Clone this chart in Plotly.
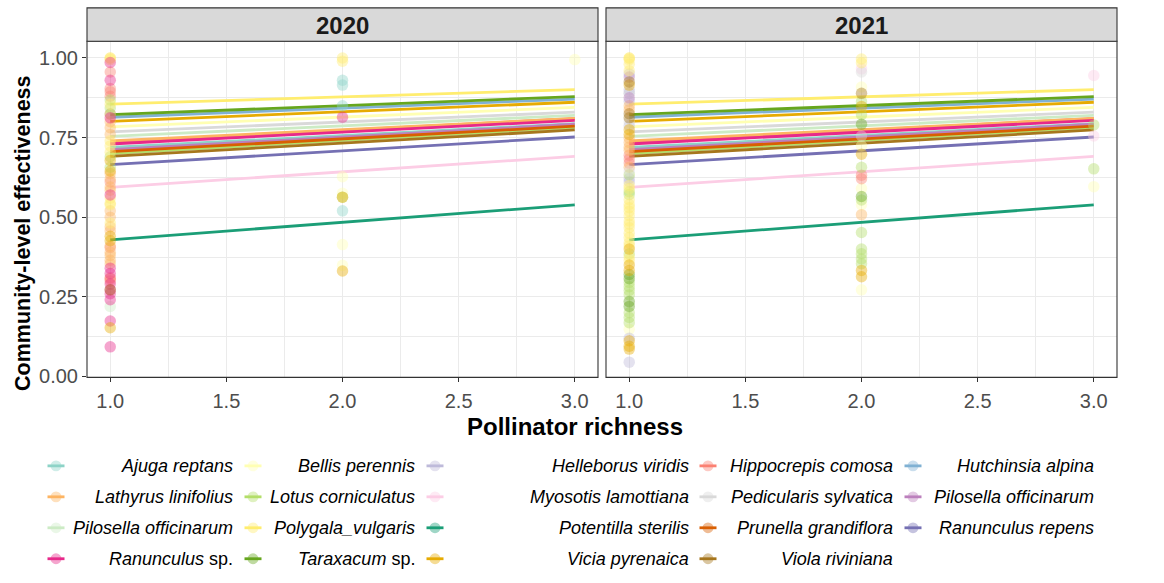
import plotly.graph_objects as go

W, H = 1164, 583

# Species (plant) names in legend order; the second Pilosella entry carries a trailing space
species = [
    "Ajuga reptans", "Bellis perennis", "Helleborus viridis", "Hippocrepis comosa",
    "Hutchinsia alpina", "Lathyrus linifolius", "Lotus corniculatus", "Myosotis lamottiana",
    "Pedicularis sylvatica", "Pilosella officinarum", "Pilosella officinarum ",
    "Polygala_vulgaris", "Potentilla sterilis", "Prunella grandiflora", "Ranunculus repens",
    "Ranunculus sp.", "Taraxacum sp.", "Vicia pyrenaica", "Viola riviniana",
]
legend_labels = [
    "<i>Ajuga reptans</i>", "<i>Bellis perennis</i>", "<i>Helleborus viridis</i>",
    "<i>Hippocrepis comosa</i>", "<i>Hutchinsia alpina</i>", "<i>Lathyrus linifolius</i>",
    "<i>Lotus corniculatus</i>", "<i>Myosotis lamottiana</i>", "<i>Pedicularis sylvatica</i>",
    "<i>Pilosella officinarum</i>", "<i>Pilosella officinarum</i>", "<i>Polygala_vulgaris</i>",
    "<i>Potentilla sterilis</i>", "<i>Prunella grandiflora</i>", "<i>Ranunculus repens</i>",
    "<i>Ranunculus</i> sp.", "<i>Taraxacum</i> sp.", "<i>Vicia pyrenaica</i>",
    "<i>Viola riviniana</i>",
]
colors = [
    "#8DD3C7", "#FFFFB3", "#BEBADA", "#FB8072", "#80B1D3", "#FDB462", "#B3DE69",
    "#FCCDE5", "#D9D9D9", "#BC80BD", "#CCEBC5", "#FFED6F",
    "#1B9E77", "#D95F02", "#7570B3", "#E7298A", "#66A61E", "#E6AB02", "#A6761D",
]

# Fitted community-level effectiveness at richness 1 and 3 for each species
fit_x = [1, 3]
fit_at_1 = [0.719, 0.784, 0.700, 0.735, 0.814, 0.740, 0.700, 0.594, 0.768, 0.712, 0.754,
            0.855, 0.429, 0.706, 0.665, 0.730, 0.822, 0.801, 0.691]
fit_at_3 = [0.794, 0.845, 0.782, 0.810, 0.871, 0.810, 0.782, 0.691, 0.830, 0.792, 0.820,
            0.901, 0.539, 0.786, 0.752, 0.804, 0.879, 0.861, 0.774]

# Observations, 2020: (effectiveness, species) at each pollinator richness
obs_2020_r1 = [
    (1.000, "Polygala_vulgaris"), (1.000, "Polygala_vulgaris"), (0.995, "Polygala_vulgaris"),
    (0.986, "Ranunculus sp."), (0.956, "Hippocrepis comosa"), (0.930, "Ranunculus sp."),
    (0.904, "Hippocrepis comosa"), (0.894, "Hippocrepis comosa"), (0.880, "Hippocrepis comosa"),
    (0.868, "Lotus corniculatus"), (0.855, "Polygala_vulgaris"), (0.843, "Lotus corniculatus"),
    (0.824, "Hippocrepis comosa"), (0.824, "Lotus corniculatus"), (0.812, "Ranunculus sp."),
    (0.800, "Lathyrus linifolius"), (0.781, "Lathyrus linifolius"), (0.760, "Lathyrus linifolius"),
    (0.740, "Polygala_vulgaris"), (0.724, "Polygala_vulgaris"), (0.704, "Polygala_vulgaris"),
    (0.690, "Lotus corniculatus"), (0.678, "Vicia pyrenaica"), (0.657, "Lotus corniculatus"),
    (0.645, "Vicia pyrenaica"), (0.637, "Lathyrus linifolius"), (0.620, "Lathyrus linifolius"),
    (0.611, "Hippocrepis comosa"), (0.595, "Lathyrus linifolius"), (0.585, "Lathyrus linifolius"),
    (0.570, "Ranunculus sp."), (0.560, "Polygala_vulgaris"), (0.544, "Polygala_vulgaris"),
    (0.539, "Polygala_vulgaris"), (0.520, "Lathyrus linifolius"), (0.500, "Lathyrus linifolius"),
    (0.482, "Polygala_vulgaris"), (0.470, "Lathyrus linifolius"), (0.457, "Lathyrus linifolius"),
    (0.440, "Vicia pyrenaica"), (0.426, "Vicia pyrenaica"), (0.410, "Lathyrus linifolius"),
    (0.405, "Hippocrepis comosa"), (0.390, "Lathyrus linifolius"), (0.380, "Lathyrus linifolius"),
    (0.365, "Lathyrus linifolius"), (0.354, "Lathyrus linifolius"), (0.340, "Ranunculus sp."),
    (0.323, "Ranunculus sp."), (0.310, "Hippocrepis comosa"), (0.307, "Hippocrepis comosa"),
    (0.300, "Hippocrepis comosa"), (0.290, "Ranunculus sp."), (0.272, "Viola riviniana"),
    (0.272, "Ranunculus sp."), (0.260, "Ranunculus sp."), (0.241, "Ranunculus sp."),
    (0.220, "Pilosella officinarum "), (0.174, "Ranunculus sp."), (0.153, "Vicia pyrenaica"),
    (0.093, "Ranunculus sp."),
]
obs_2020_r2 = [
    (1.000, "Polygala_vulgaris"), (0.990, "Polygala_vulgaris"), (0.930, "Ajuga reptans"),
    (0.915, "Ajuga reptans"), (0.850, "Ajuga reptans"), (0.814, "Ranunculus sp."),
    (0.627, "Bellis perennis"), (0.575, "Bellis perennis"), (0.563, "Vicia pyrenaica"),
    (0.563, "Lotus corniculatus"), (0.520, "Ajuga reptans"), (0.414, "Bellis perennis"),
    (0.349, "Bellis perennis"), (0.331, "Vicia pyrenaica"),
]
obs_2020_r3 = [(0.995, "Bellis perennis")]

# Observations, 2021
obs_2021_r1 = [
    (1.000, "Polygala_vulgaris"), (1.000, "Polygala_vulgaris"), (0.995, "Polygala_vulgaris"),
    (0.980, "Polygala_vulgaris"), (0.960, "Polygala_vulgaris"), (0.950, "Helleborus viridis"),
    (0.940, "Pilosella officinarum"), (0.925, "Viola riviniana"), (0.915, "Vicia pyrenaica"),
    (0.900, "Helleborus viridis"), (0.889, "Helleborus viridis"), (0.889, "Pedicularis sylvatica"),
    (0.875, "Pilosella officinarum"), (0.864, "Helleborus viridis"), (0.850, "Lathyrus linifolius"),
    (0.837, "Lathyrus linifolius"), (0.825, "Viola riviniana"), (0.812, "Viola riviniana"),
    (0.800, "Pedicularis sylvatica"), (0.787, "Helleborus viridis"), (0.775, "Vicia pyrenaica"),
    (0.760, "Vicia pyrenaica"), (0.748, "Lathyrus linifolius"), (0.735, "Lathyrus linifolius"),
    (0.720, "Lathyrus linifolius"), (0.710, "Lathyrus linifolius"), (0.695, "Hippocrepis comosa"),
    (0.683, "Hippocrepis comosa"), (0.670, "Hippocrepis comosa"), (0.657, "Lathyrus linifolius"),
    (0.645, "Pedicularis sylvatica"), (0.633, "Lotus corniculatus"), (0.622, "Helleborus viridis"),
    (0.611, "Helleborus viridis"), (0.600, "Polygala_vulgaris"), (0.590, "Polygala_vulgaris"),
    (0.580, "Lotus corniculatus"), (0.571, "Lotus corniculatus"), (0.555, "Polygala_vulgaris"),
    (0.540, "Polygala_vulgaris"), (0.530, "Polygala_vulgaris"), (0.519, "Polygala_vulgaris"),
    (0.505, "Polygala_vulgaris"), (0.488, "Polygala_vulgaris"), (0.478, "Polygala_vulgaris"),
    (0.467, "Polygala_vulgaris"), (0.450, "Polygala_vulgaris"), (0.436, "Polygala_vulgaris"),
    (0.420, "Polygala_vulgaris"), (0.410, "Polygala_vulgaris"), (0.400, "Vicia pyrenaica"),
    (0.385, "Lotus corniculatus"), (0.375, "Polygala_vulgaris"), (0.364, "Polygala_vulgaris"),
    (0.350, "Vicia pyrenaica"), (0.333, "Vicia pyrenaica"), (0.320, "Taraxacum sp."),
    (0.307, "Taraxacum sp."), (0.295, "Lotus corniculatus"), (0.282, "Lotus corniculatus"),
    (0.270, "Lotus corniculatus"), (0.256, "Lotus corniculatus"), (0.235, "Taraxacum sp."),
    (0.220, "Taraxacum sp."), (0.200, "Lotus corniculatus"), (0.185, "Lotus corniculatus"),
    (0.169, "Lotus corniculatus"), (0.148, "Bellis perennis"), (0.120, "Helleborus viridis"),
    (0.112, "Vicia pyrenaica"), (0.095, "Vicia pyrenaica"), (0.086, "Vicia pyrenaica"),
    (0.045, "Helleborus viridis"),
]
obs_2021_r2 = [
    (0.997, "Polygala_vulgaris"), (0.985, "Polygala_vulgaris"), (0.966, "Myosotis lamottiana"),
    (0.956, "Pedicularis sylvatica"), (0.909, "Bellis perennis"), (0.889, "Viola riviniana"),
    (0.863, "Lotus corniculatus"), (0.848, "Vicia pyrenaica"), (0.822, "Lotus corniculatus"),
    (0.792, "Taraxacum sp."), (0.755, "Pedicularis sylvatica"), (0.724, "Bellis perennis"),
    (0.698, "Vicia pyrenaica"), (0.657, "Lotus corniculatus"), (0.632, "Hippocrepis comosa"),
    (0.621, "Hippocrepis comosa"), (0.590, "Bellis perennis"), (0.565, "Taraxacum sp."),
    (0.554, "Lotus corniculatus"), (0.539, "Bellis perennis"), (0.508, "Lathyrus linifolius"),
    (0.452, "Lotus corniculatus"), (0.400, "Lotus corniculatus"), (0.385, "Lotus corniculatus"),
    (0.369, "Lotus corniculatus"), (0.354, "Lotus corniculatus"), (0.333, "Vicia pyrenaica"),
    (0.313, "Vicia pyrenaica"), (0.272, "Bellis perennis"),
]
obs_2021_r3 = [
    (0.945, "Myosotis lamottiana"), (0.790, "Lotus corniculatus"),
    (0.755, "Myosotis lamottiana"), (0.652, "Lotus corniculatus"), (0.596, "Bellis perennis"),
]

years = ["2020", "2021"]
panel_obs = {
    "2020": [(1, obs_2020_r1), (2, obs_2020_r2), (3, obs_2020_r3)],
    "2021": [(1, obs_2021_r1), (2, obs_2021_r2), (3, obs_2021_r3)],
}

color_of = dict(zip(species, colors))
POINT_ALPHA = 0.42
FONT = "Liberation Sans, Arial, sans-serif"


def rgba(hex_color, a):
    h = hex_color.lstrip("#")
    r, g, b = int(h[0:2], 16), int(h[2:4], 16), int(h[4:6], 16)
    return f"rgba({r},{g},{b},{a})"


fig = go.Figure()

for k, year in enumerate(years):
    xa = "x" if k == 0 else "x2"
    ya = "y" if k == 0 else "y2"
    # fitted lines
    for s, c, y1, y3 in zip(species, colors, fit_at_1, fit_at_3):
        fig.add_trace(go.Scatter(
            x=fit_x, y=[y1, y3], mode="lines", xaxis=xa, yaxis=ya, name=s,
            line=dict(color=c, width=2.8), showlegend=False, hoverinfo="skip",
        ))
    # observed points, one trace per species
    for s in species:
        xs, ys = [], []
        for richness, obs in panel_obs[year]:
            for eff, name in obs:
                if name == s:
                    xs.append(richness)
                    ys.append(eff)
        if not xs:
            continue
        fig.add_trace(go.Scatter(
            x=xs, y=ys, mode="markers", xaxis=xa, yaxis=ya, name=s,
            marker=dict(color=rgba(color_of[s], POINT_ALPHA), size=11.5, line=dict(width=0)),
            showlegend=False,
        ))

# Panel geometry in pixels
px_left = [(87, 598), (606, 1117)]
py_top, py_bot = 42, 384
strip_top = 8


def fx(p):
    return p / W


def fy(p):
    return 1 - p / H


grid = "#EBEBEB"
axis_common = dict(
    showgrid=True, gridcolor=grid, gridwidth=1.1, zeroline=False, showline=False,
    ticks="outside", ticklen=4, tickwidth=1.1, tickcolor="#333333",
    tickfont=dict(family=FONT, size=20, color="#4D4D4D"),
)
xaxis_cfg = dict(axis_common, range=[0.9, 3.1], tickmode="linear", tick0=1, dtick=0.5,
                 tickformat=".1f", ticklabelstandoff=2,
                 minor=dict(dtick=0.25, showgrid=True, gridcolor=grid, gridwidth=0.55))
yaxis_cfg = dict(axis_common, range=[-0.003, 1.0525], tickmode="linear", tick0=0, dtick=0.25,
                 tickformat=".2f",
                 minor=dict(dtick=0.125, showgrid=True, gridcolor=grid, gridwidth=0.55))

fig.update_layout(
    xaxis=dict(xaxis_cfg, domain=[fx(px_left[0][0]), fx(px_left[0][1])], anchor="y"),
    xaxis2=dict(xaxis_cfg, domain=[fx(px_left[1][0]), fx(px_left[1][1])], anchor="y2"),
    yaxis=dict(yaxis_cfg, domain=[fy(py_bot), fy(py_top)], anchor="x"),
    yaxis2=dict(yaxis_cfg, domain=[fy(py_bot), fy(py_top)], anchor="x2", matches="y",
                showticklabels=False, ticks=""),
)

shapes = []
annotations = []
for k, year in enumerate(years):
    x0, x1 = fx(px_left[k][0]), fx(px_left[k][1])
    # panel border
    shapes.append(dict(type="rect", xref="paper", yref="paper", x0=x0, x1=x1,
                       y0=fy(py_bot), y1=fy(py_top), line=dict(color="#333333", width=1.1),
                       fillcolor="rgba(0,0,0,0)", layer="above"))
    # facet strip
    shapes.append(dict(type="rect", xref="paper", yref="paper", x0=x0, x1=x1,
                       y0=fy(py_top), y1=fy(strip_top), line=dict(color="#333333", width=1.1),
                       fillcolor="#D9D9D9", layer="above"))
    annotations.append(dict(text=f"<b>{year}</b>", xref="paper", yref="paper",
                            x=(x0 + x1) / 2, y=fy((py_top + strip_top) / 2 + 1),
                            showarrow=False, xanchor="center", yanchor="middle",
                            font=dict(family=FONT, size=24, color="#1A1A1A")))

# Axis titles
annotations.append(dict(text="<b>Pollinator richness</b>", xref="paper", yref="paper",
                        x=fx(575), y=fy(434),
                        showarrow=False, xanchor="center", yanchor="middle",
                        font=dict(family=FONT, size=24, color="black")))
annotations.append(dict(text="<b>Community-level effectiveness</b>", xref="paper", yref="paper",
                        x=fx(23), y=fy(238), textangle=-90,
                        showarrow=False, xanchor="center", yanchor="middle",
                        font=dict(family=FONT, size=21.5, color="black")))

# Legend: 5 columns filled row-wise, key on the left, label right-aligned
key_cx = [56, 253, 435, 708, 913]
label_right = [235, 417, 691, 895, 1096]
row_cy = [474, 505.5, 537, 568.5]
for i, (lab, c) in enumerate(zip(legend_labels, colors)):
    r, col = divmod(i, 5)
    cx, cy = key_cx[col], row_cy[r]
    shapes.append(dict(type="circle", xref="paper", yref="paper",
                       x0=fx(cx - 5.5), x1=fx(cx + 5.5), y0=fy(cy + 5.5), y1=fy(cy - 5.5),
                       fillcolor=rgba(c, POINT_ALPHA), line=dict(width=0)))
    shapes.append(dict(type="line", xref="paper", yref="paper",
                       x0=fx(cx - 8.5), x1=fx(cx + 8.5), y0=fy(cy), y1=fy(cy),
                       line=dict(color=c, width=2.8)))
    annotations.append(dict(text=lab, xref="paper", yref="paper",
                            x=fx(label_right[col]), y=fy(cy), showarrow=False,
                            xanchor="right", yanchor="middle",
                            font=dict(family=FONT, size=18, color="black")))

fig.update_layout(
    width=W, height=H, autosize=False,
    margin=dict(l=0, r=0, t=0, b=0),
    paper_bgcolor="white", plot_bgcolor="white",
    shapes=shapes, annotations=annotations, showlegend=False,
)

fig.write_html("out.html")
